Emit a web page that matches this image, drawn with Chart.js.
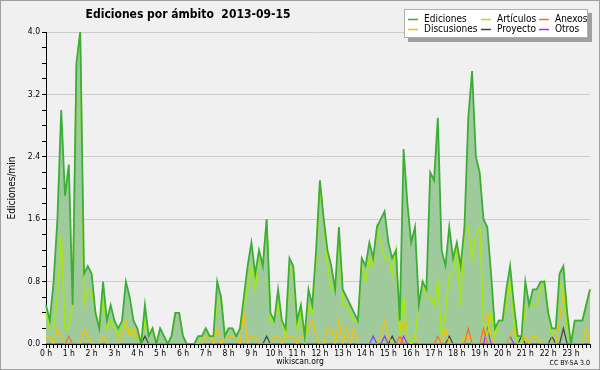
<!DOCTYPE html>
<html>
<head>
<meta charset="utf-8">
<script src="https://cdn.jsdelivr.net/npm/chart.js@4/dist/chart.umd.min.js"></script>
<style>
  body { margin: 0; background: #f0f0f0; }
  canvas { display: block; }
</style>
</head>
<body>
<canvas id="lineChart" width="600" height="370"></canvas>
<script>
// 10-minute buckets, 144 per day
var labels = [];
for (var h = 0; h < 24; h++) {
	for (var m = 0; m < 60; m += 10) labels.push(h + ':' + (m < 10 ? '0' : '') + m);
}

var ediciones = [
	0.5, 0.3, 0.8, 1.6, 3.0, 1.9, 2.3, 0.5, 3.6, 4.0, 0.9, 1.0,
	0.9, 0.4, 0.2, 0.8, 0.3, 0.5, 0.3, 0.2, 0.3, 0.8, 0.6, 0.3,
	0.2, 0.0, 0.5, 0.1, 0.2, 0.0, 0.2, 0.1, 0.0, 0.1, 0.4, 0.4,
	0.1, 0.0, 0.0, 0.0, 0.1, 0.1, 0.2, 0.1, 0.1, 0.8, 0.6, 0.1,
	0.2, 0.2, 0.1, 0.2, 0.6, 1.0, 1.3, 0.9, 1.2, 1.0, 1.6, 0.4,
	0.3, 0.7, 0.3, 0.2, 1.1, 1.0, 0.3, 0.5, 0.1, 0.7, 0.5, 1.2,
	2.1, 1.6, 1.2, 1.0, 0.7, 1.5, 0.7, 0.6, 0.5, 0.4, 0.3, 1.1,
	1.0, 1.3, 1.1, 1.5, 1.6, 1.7, 1.3, 1.1, 1.2, 0.3, 2.5, 1.8,
	1.3, 1.5, 0.5, 0.8, 0.7, 2.2, 2.1, 2.9, 1.2, 1.0, 1.5, 1.1,
	1.3, 1.0, 1.5, 2.9, 3.5, 2.4, 2.2, 1.6, 1.5, 0.9, 0.2, 0.3,
	0.3, 0.7, 1.0, 0.5, 0.1, 0.1, 0.8, 0.5, 0.7, 0.7, 0.8, 0.8,
	0.4, 0.2, 0.2, 0.9, 1.0, 0.4, 0.0, 0.3, 0.3, 0.3, 0.5, 0.7
];
var articulos = [
	0.4, 0.2, 0.2, 0.6, 1.4, 0.2, 0.2, 0.5, 3.6, 4.0, 0.5, 0.7,
	0.7, 0.4, 0.2, 0.6, 0.2, 0.3, 0.2, 0.1, 0.3, 0.2, 0.2, 0.1,
	0.1, 0.0, 0.3, 0.1, 0.2, 0.0, 0.2, 0.1, 0.0, 0.1, 0.4, 0.4,
	0.1, 0.0, 0.0, 0.0, 0.0, 0.1, 0.2, 0.1, 0.1, 0.5, 0.6, 0.1,
	0.2, 0.2, 0.1, 0.2, 0.5, 0.7, 1.0, 0.7, 1.2, 1.0, 1.6, 0.3,
	0.3, 0.5, 0.3, 0.1, 1.0, 0.9, 0.2, 0.4, 0.0, 0.5, 0.4, 1.1,
	2.0, 1.6, 1.0, 0.7, 0.7, 1.4, 0.5, 0.5, 0.4, 0.3, 0.3, 1.0,
	0.8, 1.1, 1.0, 1.5, 1.3, 1.1, 1.1, 0.9, 1.2, 0.1, 0.6, 0.1,
	0.0, 0.1, 0.5, 0.8, 0.6, 0.6, 0.5, 0.8, 0.1, 0.4, 0.9, 0.9,
	1.2, 0.5, 1.5, 1.5, 1.1, 1.4, 1.5, 0.3, 0.1, 0.4, 0.1, 0.3,
	0.3, 0.5, 0.8, 0.3, 0.0, 0.0, 0.5, 0.5, 0.5, 0.5, 0.7, 0.8,
	0.4, 0.1, 0.2, 0.8, 0.6, 0.2, 0.0, 0.3, 0.3, 0.3, 0.5, 0.7
];
var anexos = [
	0, 0, 0, 0, 0, 0, 0.1, 0, 0, 0, 0, 0,
	0, 0, 0, 0, 0, 0, 0, 0, 0, 0, 0, 0,
	0, 0, 0, 0, 0, 0, 0, 0, 0, 0, 0, 0,
	0, 0, 0, 0, 0, 0, 0, 0, 0, 0, 0, 0,
	0, 0, 0, 0, 0, 0, 0, 0, 0, 0, 0, 0,
	0, 0, 0, 0, 0, 0, 0, 0, 0, 0, 0, 0,
	0, 0, 0, 0, 0, 0, 0, 0, 0, 0, 0, 0,
	0, 0, 0, 0, 0, 0, 0, 0, 0, 0.1, 0, 0,
	0, 0, 0, 0, 0, 0, 0, 0.1, 0, 0, 0, 0,
	0, 0, 0, 0.2, 0, 0, 0, 0.2, 0, 0, 0, 0,
	0, 0, 0, 0, 0, 0, 0, 0, 0, 0, 0, 0,
	0, 0, 0, 0, 0, 0, 0, 0, 0, 0, 0, 0
];
var discusiones = [
	0.1, 0.1, 0, 0.2, 0.1, 0, 0, 0, 0, 0, 0.2, 0.1,
	0, 0, 0, 0.1, 0, 0, 0, 0, 0.1, 0.3, 0.1, 0.2,
	0.1, 0, 0, 0, 0, 0, 0, 0, 0, 0, 0, 0,
	0, 0, 0, 0, 0, 0, 0.1, 0.1, 0, 0.2, 0, 0.1,
	0.1, 0.1, 0.1, 0, 0.4, 0, 0.1, 0.1, 0, 0, 0, 0,
	0.1, 0.1, 0, 0.1, 0.1, 0.1, 0, 0.1, 0.1, 0.2, 0.3, 0.1,
	0, 0, 0.2, 0.2, 0, 0.3, 0, 0.2, 0, 0.2, 0, 0,
	0, 0, 0, 0, 0.1, 0.3, 0.1, 0, 0, 0, 0.3, 0.1,
	0, 0.1, 0, 0, 0, 0, 0, 0, 0, 0.2, 0, 0,
	0, 0, 0.1, 0.1, 0, 0, 0, 0.2, 0.4, 0.1, 0, 0,
	0, 0, 0.1, 0.2, 0, 0, 0.1, 0, 0.1, 0.1, 0, 0,
	0, 0, 0, 0.3, 0.7, 0.2, 0, 0, 0, 0, 0.2, 0
];
var proyecto = [
	0, 0, 0, 0, 0, 0, 0, 0, 0, 0, 0, 0,
	0, 0, 0, 0, 0, 0, 0, 0, 0, 0, 0, 0,
	0, 0, 0.1, 0, 0, 0, 0, 0, 0, 0, 0, 0,
	0, 0, 0, 0, 0, 0, 0, 0, 0, 0, 0, 0,
	0, 0, 0, 0, 0, 0, 0, 0, 0, 0, 0.1, 0,
	0, 0, 0, 0, 0, 0, 0, 0, 0, 0, 0, 0,
	0, 0, 0, 0, 0, 0, 0, 0, 0, 0, 0, 0,
	0, 0, 0, 0, 0, 0, 0, 0.1, 0, 0, 0, 0,
	0, 0, 0, 0, 0, 0, 0, 0, 0, 0, 0.1, 0,
	0, 0, 0, 0, 0, 0, 0, 0, 0, 0, 0, 0,
	0, 0, 0, 0, 0, 0.1, 0, 0, 0, 0, 0, 0,
	0, 0.1, 0, 0, 0.2, 0, 0, 0, 0, 0, 0, 0
];
var otros = [
	0, 0, 0, 0, 0, 0, 0, 0, 0, 0, 0, 0,
	0, 0, 0, 0, 0, 0, 0, 0, 0, 0, 0, 0,
	0, 0, 0, 0, 0, 0, 0, 0, 0, 0, 0, 0,
	0, 0, 0, 0, 0, 0, 0, 0, 0, 0, 0, 0,
	0, 0, 0, 0, 0, 0, 0, 0, 0, 0, 0, 0,
	0, 0, 0, 0, 0, 0, 0, 0, 0, 0, 0, 0,
	0, 0, 0, 0, 0, 0, 0, 0, 0, 0, 0, 0,
	0, 0, 0.1, 0, 0, 0.1, 0, 0, 0, 0, 0.1, 0,
	0, 0, 0, 0, 0, 0, 0, 0, 0, 0, 0, 0,
	0, 0, 0, 0, 0, 0, 0, 0, 0.2, 0, 0, 0,
	0, 0, 0.1, 0, 0, 0, 0, 0, 0, 0, 0, 0,
	0, 0, 0, 0, 0, 0, 0, 0, 0, 0, 0, 0
];

var FONT = "'DejaVu Sans Condensed', 'DejaVu Sans', sans-serif";
Chart.defaults.font.family = FONT;
Chart.defaults.color = '#000';

function serie(label, data, color, width, fill) {
	return {
		label: label,
		data: data,
		borderColor: color,
		borderWidth: width,
		backgroundColor: fill || color,
		fill: fill ? 'origin' : false,
		pointRadius: 0,
		tension: 0
	};
}

// fondo, título, leyenda y pie
var decor = {
	id: 'decor',
	beforeDraw: function (chart) {
		var c = chart.ctx;
		c.save();
		c.fillStyle = '#f0f0f0';
		c.fillRect(0, 0, 600, 370);
		c.strokeStyle = '#a0a0a0';
		c.lineWidth = 1;
		c.strokeRect(0.5, 0.5, 599, 369);
		c.restore();
	},
	afterDraw: function (chart) {
		var c = chart.ctx;
		c.save();
		c.fillStyle = '#000';
		c.textBaseline = 'middle';
		c.textAlign = 'center';
		c.font = 'bold 12px ' + FONT;
		c.fillText('Ediciones por ámbito  2013-09-15', 188, 15);

		// leyenda
		c.fillStyle = '#a0a0a0';
		c.fillRect(408, 13, 184, 29);
		c.fillStyle = '#fff';
		c.fillRect(404, 9, 184, 29);
		c.strokeStyle = '#b0b0b0';
		c.lineWidth = 1;
		c.strokeRect(404.5, 9.5, 183, 28);
		var sx = [408, 481, 539], tx = [424, 497, 555], ry = [19.5, 29.5];
		c.font = '10px ' + FONT;
		c.textAlign = 'left';
		chart.data.datasets.forEach(function (ds, k) {
			var col = k % 3, row = Math.floor(k / 3);
			c.strokeStyle = ds.borderColor;
			c.lineWidth = 1.5;
			c.beginPath();
			c.moveTo(sx[col], ry[row]);
			c.lineTo(sx[col] + 10, ry[row]);
			c.stroke();
			c.fillStyle = '#000';
			c.fillText(ds.label, tx[col], ry[row]);
		});

		c.font = '8.5px ' + FONT;
		c.textAlign = 'center';
		c.fillText('wikiscan.org', 300, 362);
		c.font = '7px ' + FONT;
		c.textAlign = 'right';
		c.fillText('CC BY-SA 3.0', 590, 363);
		c.restore();
	}
};

var ctxL = document.getElementById('lineChart').getContext('2d');
var myLineChart = new Chart(ctxL, {
	type: 'line',
	data: {
		labels: labels,
		datasets: [
			serie('Ediciones', ediciones, '#3cae38', 1.8, '#9fcb9c'),
			serie('Artículos', articulos, '#a8e612', 1.6),
			serie('Anexos', anexos, '#ff6a2a', 1.2),
			serie('Discusiones', discusiones, '#f7c000', 1.2),
			serie('Proyecto', proyecto, '#404040', 1.2),
			serie('Otros', otros, '#9933ff', 1.2)
		]
	},
	plugins: [decor],
	options: {
		responsive: false,
		animation: false,
		layout: { padding: { left: 4, top: 32, right: 10, bottom: 0 } },
		plugins: {
			legend: { display: false },
			title: { display: false },
			tooltip: { enabled: false },
			filler: { drawTime: 'beforeDatasetsDraw' }
		},
		scales: {
			x: {
				type: 'category',
				offset: false,
				border: { color: '#000', width: 1 },
				grid: { drawOnChartArea: false, tickLength: 4, tickColor: '#000' },
				ticks: {
					autoSkip: false,
					maxRotation: 0,
					padding: 1,
					font: { size: 8.5 },
					callback: function (v, i) { return i % 6 === 0 ? (i / 6) + ' h' : ''; }
				},
				afterFit: function (s) { s.height = 26; }
			},
			y: {
				min: 0,
				max: 4,
				border: { color: '#000', width: 1 },
				grid: {
					tickLength: 4,
					tickColor: '#000',
					color: function (ctx) {
						var v = ctx.tick ? ctx.tick.value : 0;
						var r = v / 0.8;
						return Math.abs(r - Math.round(r)) < 1e-6 ? '#cccccc' : 'rgba(0,0,0,0)';
					}
				},
				ticks: {
					stepSize: 0.2,
					padding: 2,
					font: { size: 8.5 },
					callback: function (v) {
						var r = v / 0.8;
						return Math.abs(r - Math.round(r)) < 1e-6 ? v.toFixed(1) : '';
					}
				},
				title: { display: true, text: 'Ediciones/min', font: { size: 10 }, padding: { top: 2, bottom: 0 } },
				afterFit: function (s) { s.width = 42; }
			}
		}
	}
});
</script>
</body>
</html>
